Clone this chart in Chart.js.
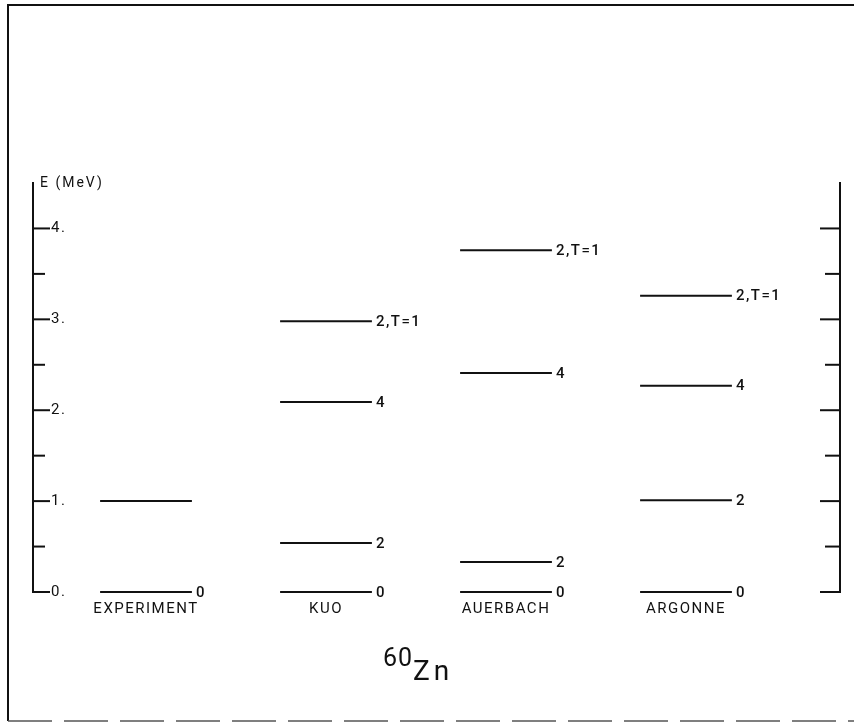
<!DOCTYPE html>
<html>
<head>
<meta charset="utf-8">
<title>60Zn levels</title>
<script src="https://cdn.jsdelivr.net/npm/chart.js@4"></script>
<style>
  html, body { margin: 0; padding: 0; background: #fff; }
  #wrap { width: 854px; height: 726px; position: relative; }
</style>
</head>
<body>
<div id="wrap"><canvas id="c" width="854" height="726"></canvas></div>
<script>
// Level schemes for 60Zn: excitation energies (MeV) and spin labels per model
const models = ['EXPERIMENT', 'KUO', 'AUERBACH', 'ARGONNE'];

const experimentE = [0, 1.00];
const experimentJ = ['0', ''];

const kuoE = [0, 0.54, 2.09, 2.98];
const kuoJ = ['0', '2', '4', '2,T=1'];

const auerbachE = [0, 0.33, 2.41, 3.76];
const auerbachJ = ['0', '2', '4', '2,T=1'];

const argonneE = [0, 1.01, 2.27, 3.26];
const argonneJ = ['0', '2', '4', '2,T=1'];

const yTickLabels = ['0.', '1.', '2.', '3.', '4.'];
const axisTitle = 'E (MeV)';
const nucleusMass = '60';
const nucleusSymbol = 'Zn';

const levelE = [experimentE, kuoE, auerbachE, argonneE];
const levelJ = [experimentJ, kuoJ, auerbachJ, argonneJ];

const INK = '#111';
const HALF = 0.255; // half length of a level bar, in column units

const datasets = [];
levelE.forEach((energies, col) => {
  energies.forEach((e, k) => {
    datasets.push({
      data: [{ x: col - HALF, y: e }, { x: col + HALF, y: e }],
      spin: levelJ[col][k],
      borderColor: INK,
      borderWidth: 2,
      pointRadius: 0,
      fill: false,
      tension: 0,
      clip: false
    });
  });
});

const keepTicks = s => { s.ticks = s.ticks.filter(t => t.value <= yTickLabels.length - 1 + 1e-9); };

// page frame, axis titles, inward tick marks and spin labels
const decor = {
  id: 'decor',
  beforeDraw(chart) {
    const ctx = chart.ctx;
    ctx.save();
    ctx.fillStyle = '#fff';
    ctx.fillRect(0, 0, chart.width, chart.height);
    ctx.strokeStyle = INK;
    ctx.lineWidth = 2;
    ctx.beginPath();
    ctx.moveTo(854, 5); ctx.lineTo(8, 5); ctx.lineTo(8, 721);
    ctx.stroke();
    ctx.setLineDash([44, 12]);
    ctx.lineWidth = 1.5;
    ctx.strokeStyle = '#555';
    ctx.beginPath();
    ctx.moveTo(8, 721); ctx.lineTo(854, 721);
    ctx.stroke();
    ctx.restore();
    // wide lettering for all axis text drawn by the scales
    ctx.letterSpacing = '1.5px';
  },
  afterDraw(chart) {
    const ctx = chart.ctx;
    const a = chart.chartArea;
    const y = chart.scales.y, y2 = chart.scales.y2;
    ctx.save();
    ctx.strokeStyle = INK;
    ctx.lineWidth = 2;
    y.ticks.forEach(t => {
      const py = y.getPixelForValue(t.value);
      const len = Number.isInteger(t.value) ? 17 : 12;
      ctx.beginPath(); ctx.moveTo(a.left, py); ctx.lineTo(a.left + len, py); ctx.stroke();
    });
    y2.ticks.forEach(t => {
      const py = y2.getPixelForValue(t.value);
      const len = Number.isInteger(t.value) ? 20 : 15;
      ctx.beginPath(); ctx.moveTo(a.right, py); ctx.lineTo(a.right - len, py); ctx.stroke();
    });

    ctx.fillStyle = INK;
    ctx.letterSpacing = '2px';
    ctx.font = '14px Roboto';
    ctx.textAlign = 'left';
    ctx.textBaseline = 'middle';
    ctx.fillText(axisTitle, a.left + 7, a.top);

    // nucleus label with raised mass number
    ctx.textBaseline = 'alphabetic';
    ctx.letterSpacing = '1px';
    ctx.font = '25px Roboto';
    ctx.fillText(nucleusMass, 383, 666);
    ctx.letterSpacing = '4px';
    ctx.font = '28px Roboto';
    ctx.fillText(nucleusSymbol, 413, 680);
    ctx.restore();
  },
  afterDatasetsDraw(chart) {
    const ctx = chart.ctx;
    ctx.save();
    ctx.fillStyle = INK;
    ctx.font = '500 15px Roboto';
    ctx.letterSpacing = '1.5px';
    ctx.textAlign = 'left';
    ctx.textBaseline = 'middle';
    chart.data.datasets.forEach((ds, i) => {
      if (!ds.spin) return;
      const pt = chart.getDatasetMeta(i).data[1];
      ctx.fillText(ds.spin, pt.x + 4, pt.y + 1);
    });
    ctx.restore();
  }
};

new Chart(document.getElementById('c'), {
  type: 'line',
  data: { datasets },
  plugins: [decor],
  options: {
    responsive: false,
    animation: false,
    events: [],
    layout: { padding: { left: 33, right: 14, top: 183, bottom: 94 } },
    plugins: { legend: { display: false }, tooltip: { enabled: false } },
    scales: {
      x: {
        type: 'linear',
        min: -0.6278,
        max: 3.8556,
        afterBuildTicks: s => { s.ticks = models.map((_, i) => ({ value: i })); },
        afterFit: s => { s.height = 40; },
        ticks: {
          callback: v => models[v] ?? '',
          font: { family: 'Roboto', size: 15 },
          color: INK,
          padding: 8,
          maxRotation: 0,
          autoSkip: false
        },
        grid: { display: false, drawTicks: false },
        border: { display: false }
      },
      y: {
        position: 'left',
        min: 0,
        max: 4.5,
        afterBuildTicks: keepTicks,
        afterFit: s => { s.width = 0; },
        ticks: {
          stepSize: 0.5,
          mirror: true,
          padding: 18,
          callback: v => Number.isInteger(v) ? yTickLabels[v] : '',
          font: { family: 'Roboto', size: 15 },
          color: INK,
          autoSkip: false
        },
        grid: { drawOnChartArea: false, drawTicks: false },
        border: { display: true, color: INK, width: 2 }
      },
      y2: {
        position: 'right',
        min: 0,
        max: 4.5,
        afterBuildTicks: keepTicks,
        afterFit: s => { s.width = 0; },
        ticks: { display: false, stepSize: 0.5, autoSkip: false },
        grid: { drawOnChartArea: false, drawTicks: false },
        border: { display: true, color: INK, width: 2 }
      }
    }
  }
});
</script>
</body>
</html>
